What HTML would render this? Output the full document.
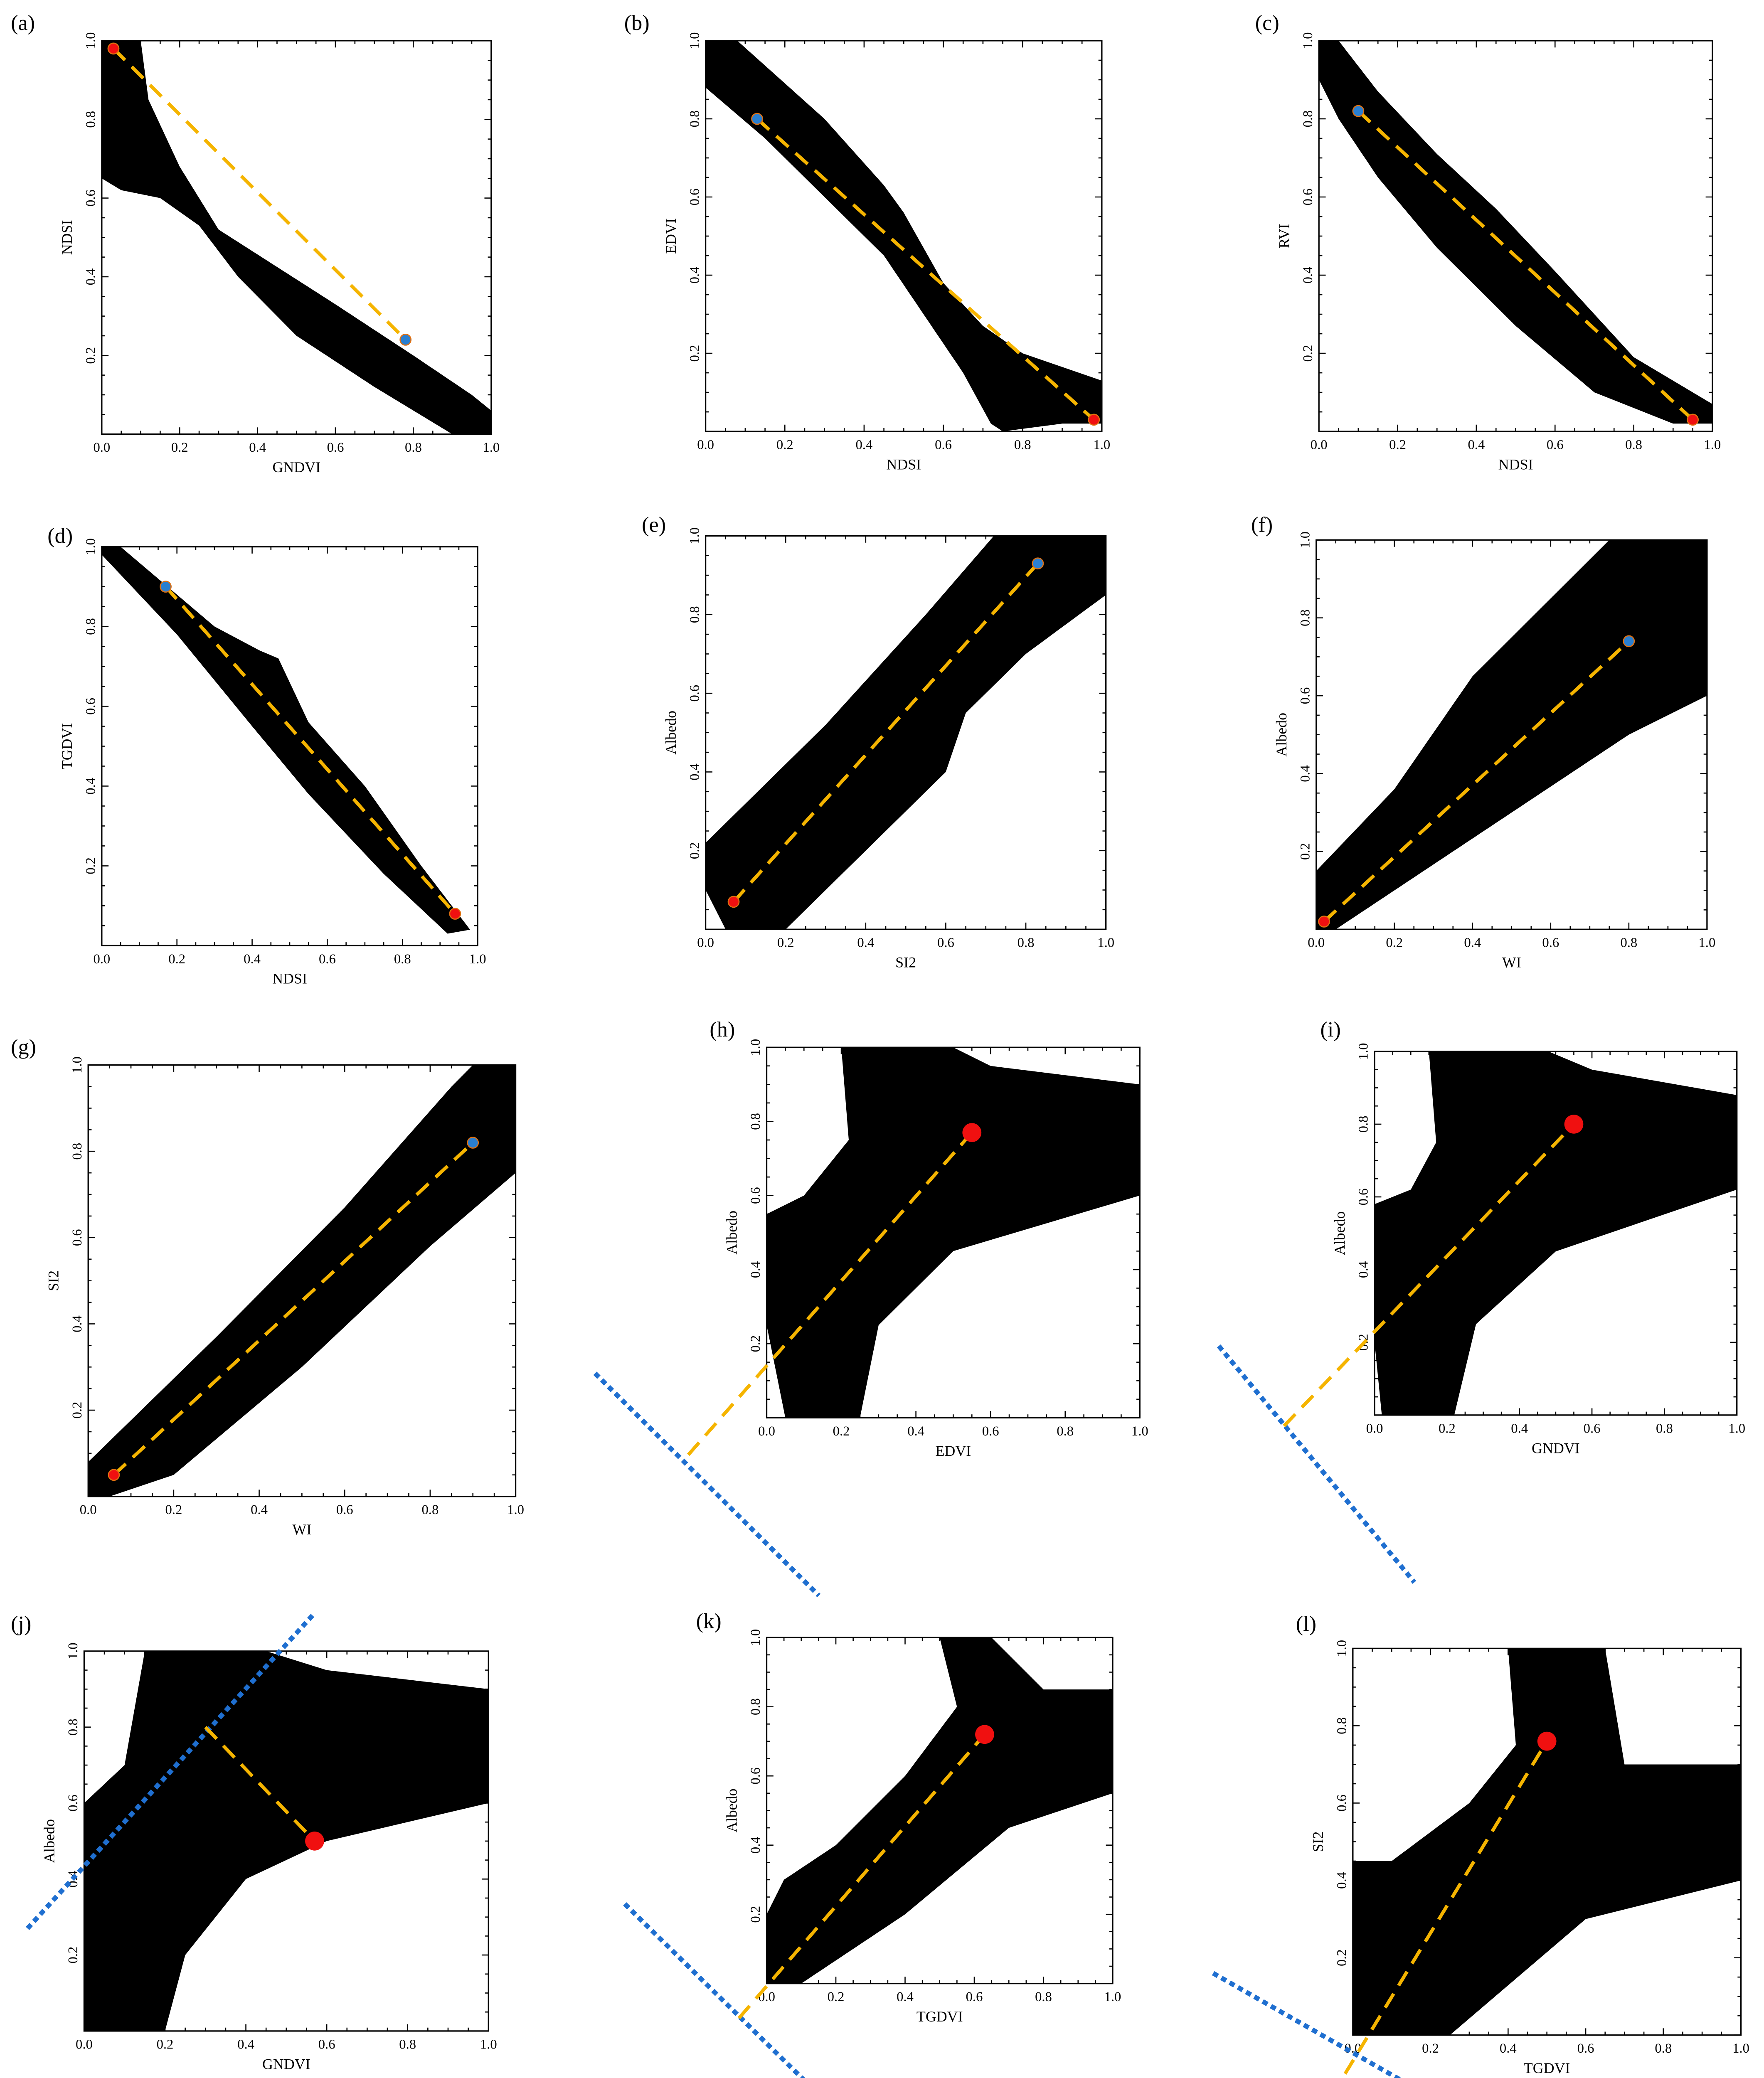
<!DOCTYPE html>
<html><head><meta charset="utf-8">
<style>
html,body{margin:0;padding:0;background:#fff;width:4244px;height:5073px;overflow:hidden;}
svg{display:block;}
text{font-family:"Liberation Serif",serif;fill:#000;}
</style></head>
<body>
<svg id="fig" width="4244" height="5073" viewBox="0 0 1300 1554" preserveAspectRatio="none" xmlns="http://www.w3.org/2000/svg"></svg>
<script>
// ---- data ----
const panelLetters = ["(a)","(b)","(c)","(d)","(e)","(f)","(g)","(h)","(i)","(j)","(k)","(l)"];
const xLabels = ["GNDVI","NDSI","NDSI","NDSI","SI2","WI","WI","EDVI","GNDVI","GNDVI","TGDVI","TGDVI"];
const yLabels = ["NDSI","EDVI","RVI","TGDVI","Albedo","Albedo","SI2","Albedo","Albedo","Albedo","Albedo","SI2"];
const tickValues = [0,0.2,0.4,0.6,0.8,1.0];
const tickLabels = ["0.0","0.2","0.4","0.6","0.8","1.0"];
const clouds = [
 [[0,1],[0.1,1],[0.12,0.85],[0.2,0.68],[0.3,0.52],[0.6,0.33],[0.8,0.2],[0.95,0.1],[1,0.06],[1,0],[0.9,0],[0.7,0.12],[0.5,0.25],[0.35,0.4],[0.25,0.53],[0.15,0.6],[0.05,0.62],[0,0.65]],
 [[0,1],[0.08,1],[0.3,0.8],[0.45,0.63],[0.5,0.56],[0.6,0.38],[0.7,0.27],[0.8,0.2],[1,0.13],[1,0.02],[0.9,0.02],[0.75,0],[0.72,0.02],[0.65,0.15],[0.55,0.3],[0.45,0.45],[0.3,0.6],[0.15,0.75],[0,0.88]],
 [[0,1],[0.05,1],[0.15,0.87],[0.3,0.71],[0.45,0.57],[0.6,0.41],[0.8,0.19],[1,0.07],[1,0.02],[0.9,0.02],[0.7,0.1],[0.5,0.27],[0.3,0.47],[0.15,0.65],[0.05,0.8],[0,0.9]],
 [[0,1],[0.05,1],[0.3,0.8],[0.42,0.74],[0.47,0.72],[0.55,0.56],[0.7,0.4],[0.85,0.2],[0.98,0.04],[0.92,0.03],[0.75,0.18],[0.55,0.38],[0.4,0.55],[0.2,0.78],[0,0.98]],
 [[0,0.1],[0,0.22],[0.3,0.52],[0.55,0.8],[0.72,1],[1,1],[1,0.85],[0.8,0.7],[0.65,0.55],[0.6,0.4],[0.4,0.2],[0.2,0],[0.05,0]],
 [[0,0],[0,0.15],[0.2,0.36],[0.4,0.65],[0.6,0.85],[0.75,1],[1,1],[1,0.6],[0.8,0.5],[0.5,0.3],[0.2,0.1],[0.05,0]],
 [[0,0],[0,0.08],[0.3,0.37],[0.6,0.67],[0.85,0.95],[0.9,1],[1,1],[1,0.75],[0.8,0.58],[0.5,0.3],[0.2,0.05],[0.05,0]],
 [[0.05,0],[0.25,0],[0.3,0.25],[0.5,0.45],[1,0.6],[1,0.9],[0.6,0.95],[0.5,1],[0.2,1],[0.22,0.75],[0.1,0.6],[0,0.55],[0,0.25]],
 [[0.02,0],[0.22,0],[0.28,0.25],[0.5,0.45],[1,0.62],[1,0.88],[0.6,0.95],[0.48,1],[0.15,1],[0.17,0.75],[0.1,0.62],[0,0.58],[0,0.2]],
 [[0,0],[0.2,0],[0.25,0.2],[0.4,0.4],[0.6,0.5],[1,0.6],[1,0.9],[0.6,0.95],[0.45,1],[0.15,1],[0.1,0.7],[0,0.6]],
 [[0,0],[0.1,0],[0.4,0.2],[0.7,0.45],[1,0.55],[1,0.85],[0.8,0.85],[0.65,1],[0.5,1],[0.55,0.8],[0.4,0.6],[0.2,0.4],[0.05,0.3],[0,0.2]],
 [[0,0],[0.25,0],[0.6,0.3],[1,0.4],[1,0.7],[0.7,0.7],[0.65,1],[0.4,1],[0.42,0.75],[0.3,0.6],[0.1,0.45],[0,0.45]]
];
const dashStart = [[0.03,0.98],[0.13,0.8],[0.1,0.82],[0.17,0.9],[0.07,0.07],[0.02,0.02],[0.06,0.05],[-0.21,-0.1],[-0.25,-0.03],[0.3,0.8],[-0.08,-0.1],[-0.02,-0.1]];
const dashEnd = [[0.78,0.24],[0.98,0.03],[0.95,0.03],[0.94,0.08],[0.83,0.93],[0.8,0.74],[0.9,0.82],[0.55,0.77],[0.55,0.8],[0.57,0.5],[0.63,0.72],[0.5,0.76]];
const startColor = ["red","blue","blue","blue","red","red","red",null,null,null,null,null];
const endColor = ["blue","red","red","red","blue","blue","blue","red","red","red","red","red"];
const blueLines = [null,null,null,null,null,null,null,
 [[-0.46,0.12],[0.14,-0.48]],[[-0.43,0.19],[0.11,-0.46]],[[-0.14,0.27],[0.57,1.1]],[[-0.41,0.23],[0.18,-0.35]],[[-0.36,0.16],[0.2,-0.16]]];
// layout (not data)
const boxes = [[75,30,362,320],[520,30,812,318],[972,30,1262,318],[75,403,352,697],[520,395,815,685],[970,398,1258,685],
 [65,785,380,1103],[565,772,840,1045],[1013,775,1280,1043],[62,1217,360,1497],[565,1207,820,1462],[997,1215,1283,1500]];
const letterPos = [[8,22],[460,22],[925,22],[35,400],[473,392],[922,392],[8,777],[523,764],[973,764],[8,1202],[513,1200],[955,1202]];

const NS="http://www.w3.org/2000/svg";
const svg=document.getElementById('fig');
function mk(tag,attrs,parent){const e=document.createElementNS(NS,tag);for(const k in attrs)e.setAttribute(k,attrs[k]);(parent||svg).appendChild(e);return e;}

boxes.forEach((b,i)=>{
  const [x0,y0,x1,y1]=b;
  const g=mk('g',{});
  
  
  const sx=v=>x0+(x1-x0)*v;
  const sy=v=>y1-(y1-y0)*v;
  const poly=mk('polygon',{points:clouds[i].map(p=>sx(p[0])+','+sy(p[1])).join(' '),fill:'#000'},g);
  
  
  const fr=mk('rect',{x:x0,y:y0,width:x1-x0,height:y1-y0,fill:'none',stroke:'#000','stroke-width':1},g);
  
  
  for(let t=0;t<=20;t++){
    const v=t/20, len=(t%4===0)?5:2.5;
    mk('line',{x1:sx(v),y1:y1,x2:sx(v),y2:y1-len,stroke:'#000','stroke-width':0.8},g);
    mk('line',{x1:sx(v),y1:y0,x2:sx(v),y2:y0+len,stroke:'#000','stroke-width':0.8},g);
    mk('line',{x1:x0,y1:sy(v),x2:x0+len,y2:sy(v),stroke:'#000','stroke-width':0.8},g);
    mk('line',{x1:x1,y1:sy(v),x2:x1-len,y2:sy(v),stroke:'#000','stroke-width':0.8},g);
  }
  tickValues.forEach((v,k)=>{
    const tx=mk('text',{x:sx(v),y:y1+13,'font-size':10,'text-anchor':'middle'},g);
    tx.textContent=tickLabels[k];
    
    
    if(k>0){
      const ty=mk('text',{x:x0-5,y:sy(v),'font-size':10,'text-anchor':'middle',transform:`rotate(-90 ${x0-5} ${sy(v)})`},g);
      ty.textContent=tickLabels[k];
      
      
    }
  });
  const xl=mk('text',{x:(x0+x1)/2,y:y1+28,'font-size':11,'text-anchor':'middle'},g);
  xl.textContent=xLabels[i];
  
  
  const ycx=x0-22, ycy=(y0+y1)/2;
  const yl=mk('text',{x:ycx,y:ycy,'font-size':11,'text-anchor':'middle',transform:`rotate(-90 ${ycx} ${ycy})`},g);
  yl.textContent=yLabels[i];
  
  
  const lt=mk('text',{x:letterPos[i][0],y:letterPos[i][1],'font-size':16},g);
  lt.textContent=panelLetters[i];
  
  
  if(blueLines[i]){
    const bl=blueLines[i];
    const ln=mk('line',{x1:sx(bl[0][0]),y1:sy(bl[0][1]),x2:sx(bl[1][0]),y2:sy(bl[1][1]),stroke:'#1f6fd0','stroke-width':3.5,'stroke-dasharray':'4 3'},g);
    
    
  }
  const dl=mk('line',{x1:sx(dashStart[i][0]),y1:sy(dashStart[i][1]),x2:sx(dashEnd[i][0]),y2:sy(dashEnd[i][1]),stroke:'#f5b400','stroke-width':2.5,'stroke-dasharray':'12 7'},g);
  
  
  const big = i>=7;
  if(startColor[i]){
    const c=mk('circle',{cx:sx(dashStart[i][0]),cy:sy(dashStart[i][1]),r:4,fill:startColor[i]==='red'?'#f01010':'#2a7fd0',stroke:'#e07010','stroke-width':0.8},g);
    
    
  }
  const e=mk('circle',{cx:sx(dashEnd[i][0]),cy:sy(dashEnd[i][1]),r:big?7:4,fill:endColor[i]==='red'?'#f01010':'#2a7fd0',stroke:big?'none':'#e07010','stroke-width':0.8},g);
  
  
});
</script>
</body></html>
